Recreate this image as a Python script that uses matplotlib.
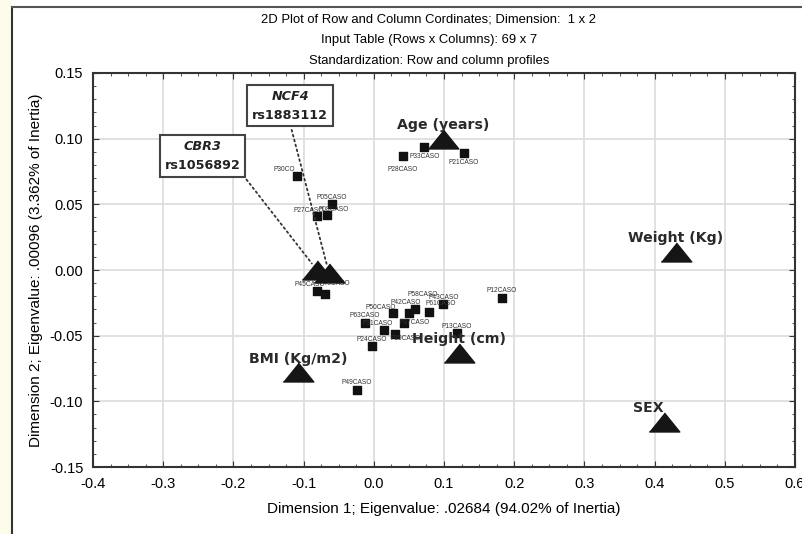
import matplotlib
matplotlib.use("Agg")
import matplotlib.pyplot as plt
from matplotlib.offsetbox import TextArea, VPacker, AnnotationBbox
from matplotlib.ticker import MultipleLocator
from matplotlib.patches import Rectangle
from matplotlib.lines import Line2D

plt.rcParams['font.family'] = ['Liberation Sans', 'DejaVu Sans']

# row points (cases)
row_names = ['P30CO', 'P05CASO', 'P27CASO', 'P08CASO', 'P28CASO', 'P33CASO', 'P21CASO',
             'P45CASO', 'P46CASO', 'P12CASO', 'P43CASO', 'P50CASO', 'P42CASO', 'P58CASO',
             'P61CASO', 'P63CASO', 'P31CASO', 'P37CASO', 'P19CASO', 'P24CASO', 'P49CASO',
             'P13CASO']
row_x = [-0.109, -0.060, -0.081, -0.067, 0.041, 0.072, 0.128,
         -0.081, -0.070, 0.182, 0.099, 0.028, 0.050, 0.058,
         0.078, -0.013, 0.014, 0.043, 0.030, -0.003, -0.024,
         0.118]
row_y = [0.0715, 0.050, 0.041, 0.042, 0.087, 0.094, 0.089,
         -0.016, -0.018, -0.021, -0.026, -0.033, -0.033, -0.030,
         -0.032, -0.040, -0.046, -0.040, -0.049, -0.058, -0.091,
         -0.048]

# column points (variables)
col_names = ['Age (years)', 'Weight (Kg)', 'SEX', 'Height (cm)', 'BMI (Kg/m2)', 'CBR3', 'NCF4']
col_x = [0.099, 0.430, 0.413, 0.122, -0.108, -0.081, -0.064]
col_y = [0.100, 0.014, -0.116, -0.063, -0.078, 0.000, -0.002]
snp_ids = {'CBR3': 'rs1056892', 'NCF4': 'rs1883112'}

title = ['2D Plot of Row and Column Cordinates; Dimension:  1 x 2',
         'Input Table (Rows x Columns): 69 x 7',
         'Standardization: Row and column profiles']

fig = plt.figure(figsize=(8.03, 5.34), dpi=100)

# screenshot frame: cream strip on the left, dark border lines
fig.patches.append(Rectangle((0, 0), 12 / 803, 1, transform=fig.transFigure,
                             facecolor='#fdfbea', edgecolor='none', zorder=0))
fig.lines.append(Line2D([12 / 803, 12 / 803], [0, 1 - 7 / 534], transform=fig.transFigure,
                        color='#333333', lw=1.5))
fig.lines.append(Line2D([12 / 803, 1], [1 - 7 / 534, 1 - 7 / 534], transform=fig.transFigure,
                        color='#555555', lw=1.5))

ax = fig.add_axes([93 / 803, 1 - 467 / 534, 702 / 803, 394 / 534])
ax.set_xlim(-0.4, 0.6)
ax.set_ylim(-0.15, 0.15)
ax.xaxis.set_major_locator(MultipleLocator(0.1))
ax.xaxis.set_minor_locator(MultipleLocator(0.025))
ax.yaxis.set_major_locator(MultipleLocator(0.05))
ax.yaxis.set_minor_locator(MultipleLocator(0.01))
ax.xaxis.set_major_formatter(lambda v, p: f'{v:.1f}')
ax.yaxis.set_major_formatter(lambda v, p: f'{v:.2f}')
ax.tick_params(which='both', direction='in', top=True, right=True, color='#333333')
ax.tick_params(which='major', length=4, labelsize=10.5, pad=7)
ax.tick_params(which='minor', length=2.5)
ax.grid(True, which='major', color='#dcdcdc', lw=1.2)
ax.set_axisbelow(True)
for s in ax.spines.values():
    s.set_linewidth(1.5)
    s.set_color('#333333')

ax.set_xlabel('Dimension 1; Eigenvalue: .02684 (94.02% of Inertia)', fontsize=11, labelpad=8)
ax.set_ylabel('Dimension 2; Eigenvalue: .00096 (3.362% of Inertia)', fontsize=11, labelpad=5)

for i, line in enumerate(title):
    fig.text(429 / 803, 1 - (19 + 21 * i) / 534, line, ha='center', va='center', fontsize=9.4)

# rows
ax.scatter(row_x, row_y, marker='s', s=30, color='#111111', zorder=3)
below = {'P28CASO': -10, 'P33CASO': -7, 'P21CASO': -7}
shift = {'P30CO': (-9, 5), 'P27CASO': (-6, 4), 'P08CASO': (5, 4), 'P50CASO': (-9, 4),
         'P45CASO': (-5, 5), 'P46CASO': (7, 7), 'P42CASO': (-2, 8), 'P58CASO': (6, 11),
         'P61CASO': (9, 6), 'P37CASO': (8, 0), 'P31CASO': (-4, 5), 'P19CASO': (8, -3)}
for n, x, y in zip(row_names, row_x, row_y):
    dx, dy = shift.get(n, (0, below.get(n, 5)))
    ax.annotate(n, (x, y), xytext=(dx, dy), textcoords='offset points',
                ha='center', va='center', fontsize=4.8, color='#333333', zorder=4)

# columns
tri = [(-1, -0.62), (1, -0.62), (0, 0.62)]
ax.scatter(col_x, col_y, marker=tri, s=22 ** 2, color='#151515', zorder=5)
lab_off = {'SEX': (-11, 10)}
for n, x, y in zip(col_names, col_x, col_y):
    if n in snp_ids:
        continue
    dx, dy = lab_off.get(n, (0, 10))
    ax.annotate(n, (x, y), xytext=(dx, dy), textcoords='offset points',
                ha='center', va='center', fontsize=10.2, fontweight='bold',
                color='#2a2a2a', family=['DejaVu Sans'], zorder=6)

# SNP call-out boxes
box_pos = {'CBR3': (-0.244, 0.0868), 'NCF4': (-0.119, 0.125)}
relpos = {'CBR3': (1.0, 0.0), 'NCF4': (0.49, 0.0)}
for n in ['CBR3', 'NCF4']:
    k = col_names.index(n)
    pack = VPacker(children=[
        TextArea(n, textprops=dict(fontsize=9.2, fontweight='bold', fontstyle='italic',
                                   color='#222222', family=['DejaVu Sans'])),
        TextArea(snp_ids[n], textprops=dict(fontsize=9.2, fontweight='bold',
                                            color='#222222', family=['DejaVu Sans']))],
        align='center', pad=0, sep=4)
    ab = AnnotationBbox(pack, (col_x[k], col_y[k]), xybox=box_pos[n], boxcoords='data',
                        pad=0.35, bboxprops=dict(edgecolor='#444444', lw=1.5, facecolor='white'),
                        arrowprops=dict(arrowstyle='-', linestyle=(0, (1.0, 1.8)), lw=1.3,
                                        color='#333333', relpos=relpos[n], shrinkB=6),
                        zorder=7)
    ax.add_artist(ab)

fig.savefig('out.png', dpi=100)
